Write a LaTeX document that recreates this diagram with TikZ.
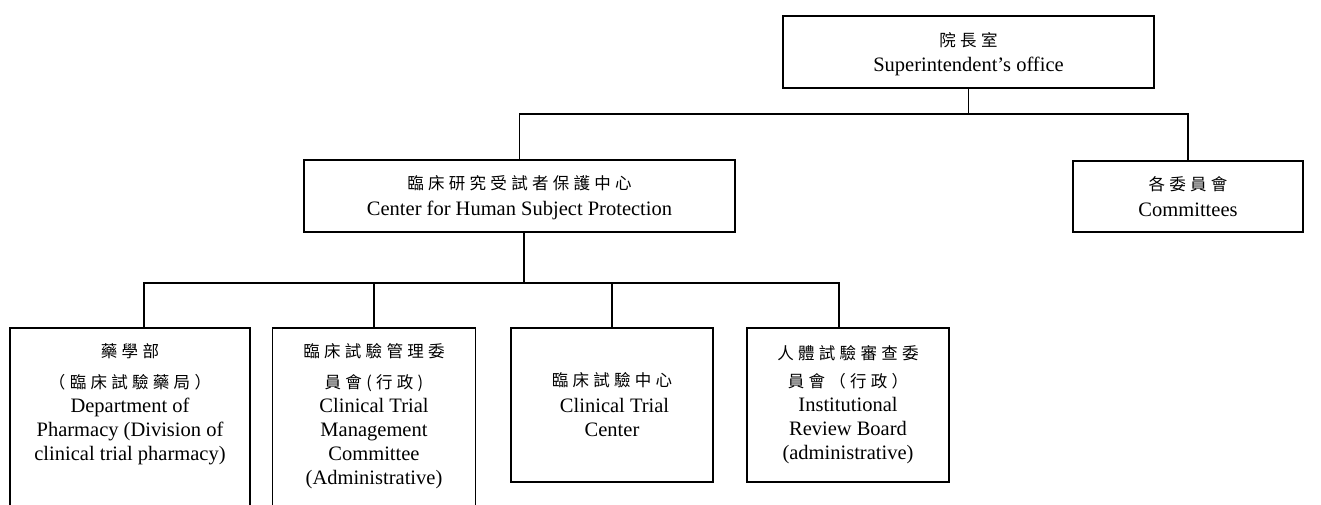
\documentclass[tikz,border=0pt]{standalone}
\usepackage{fontspec}
\setmainfont{Liberation Serif}
\newfontfamily\cjk[LetterSpace=26]{Noto Sans CJK TC}
\newcommand{\zh}[1]{{\cjk\fontsize{16.5}{24}\selectfont #1}}
\usetikzlibrary{positioning}

\begin{document}
\begin{tikzpicture}[x=1pt, y=-1pt,
      every node/.style={align=center, font=\fontsize{20.5}{24}\selectfont},
      unit/.style={draw, rectangle, line width=1.7pt, inner sep=0pt},
      lowunit/.style={unit, anchor=north, minimum width=202pt, minimum height=154pt},
      tallunit/.style={unit, anchor=north, inner ysep=16pt, text depth=150pt},
      link/.style={line width=1.7pt}
    ]
    \useasboundingbox (0,0) rectangle (1321,505);
    \clip (0,0) rectangle (1321,505);

    % top level
    \node[unit, minimum width=371pt, minimum height=72pt, text depth=-4pt] (sup) at (968.5,52)
        {\zh{院長室}\\[1pt]Superintendent's office};

    % second level
    \node[unit, minimum width=431pt, minimum height=72pt, text depth=0pt] (chsp) at (519.5,196)
        {\zh{臨床研究受試者保護中心}\\[2pt]Center for Human Subject Protection};
    \node[unit, minimum width=230pt, minimum height=71pt, text depth=0pt] (comm) at (1188,196.5)
        {\zh{各委員會}\\[2pt]Committees};

    % third level
    \node[tallunit, minimum width=240pt] (pharm) at (130,327)
        {\zh{藥學部}\\[7pt]\zh{（臨床試驗藥局）}\\Department of\\Pharmacy (Division of\\clinical trial pharmacy)};
    \node[tallunit, minimum width=203pt] (ctmc) at (374,327)
        {\zh{臨床試驗管理委}\\[7pt]\zh{員會(行政)}\\Clinical Trial\\Management\\Committee\\(Administrative)};
    \node[lowunit] (ctc) at (612,327)
        {\zh{臨床試驗中心}\\[2pt]\ Clinical Trial\\Center};
    \node[lowunit] (irb) at (848,327)
        {\zh{人體試驗審查委}\\[4pt]\zh{員會（行政）}\\Institutional\\Review Board\\(administrative)};

    % connectors
    \draw[link] (sup.south) -- ++(0,25) -| (chsp.north);
    \draw[link] (sup.south) -- ++(0,25) -| (comm.north);

    \coordinate (lowbar) at (524,283);
    \draw[link] ([xshift=4.5pt]chsp.south) -- (lowbar);
    \draw[link] (lowbar) -| ([xshift=14pt]pharm.north);
    \draw[link] (lowbar) -| (ctmc.north);
    \draw[link] (lowbar) -| (ctc.north);
    \draw[link] (lowbar) -| ([xshift=-9pt]irb.north);
\end{tikzpicture}
\end{document}
